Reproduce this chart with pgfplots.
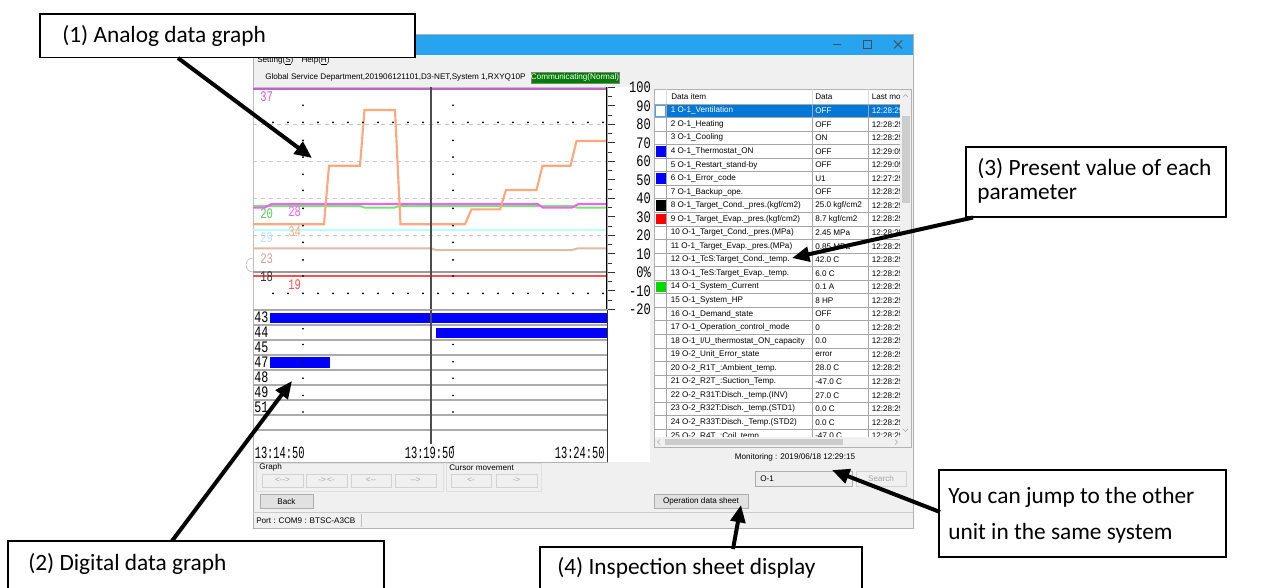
\documentclass[border=0pt]{standalone}
\usepackage{fontspec}
\setmainfont{Liberation Sans}
\newfontfamily\callfont{Carlito}
\newfontfamily\gothic{Liberation Mono}
\usepackage{graphicx}
\usepackage{pgfplots}
\pgfplotsset{compat=1.18}
\usetikzlibrary{arrows.meta}

\definecolor{titleblue}{RGB}{39,164,240}
\definecolor{winbg}{RGB}{240,240,240}
\definecolor{selblue}{RGB}{0,120,215}
\definecolor{corange}{RGB}{255,168,128}
\definecolor{cmagenta}{RGB}{255,90,255}
\definecolor{cgreen}{RGB}{110,235,110}
\definecolor{ccyan}{RGB}{185,255,255}
\definecolor{ctan}{RGB}{222,186,168}
\definecolor{cred}{RGB}{255,80,80}
\definecolor{cpurple}{RGB}{190,100,200}
\definecolor{commgreen}{RGB}{0,125,0}
\definecolor{btnbg}{RGB}{225,225,225}
\definecolor{btnborder}{RGB}{173,173,173}

\newcommand\sx[2][0.75]{\scalebox{#1}[1]{#2}}
\newcommand\uifont{\fontsize{6.1}{7}\selectfont}
\newcommand\gf[1]{\gothic\fontsize{#1}{#1}\selectfont}
\newcommand\cf{\callfont\fontsize{17.5}{21}\selectfont}

\newcommand\trow[4]{%
  \node[anchor=west,inner sep=0,font=\uifont] at (670.5,{110.7+(#1-1)*13.55}) {#1 #2};
  \node[anchor=west,inner sep=0,font=\uifont] at (815,{110.7+(#1-1)*13.55}) {#3};
  \node[anchor=west,inner sep=0,font=\uifont] at (871.5,{110.7+(#1-1)*13.55}) {#4};
}
\newcommand\swatch[2]{%
  \fill[#2] (655.5,{103.9+(#1-1)*13.55+1.5}) rectangle (665.5,{103.9+#1*13.55-1.5});
}

\begin{document}
\begin{tikzpicture}[x=0.75pt,y=-0.75pt]
\tikzset{callbox/.style={draw=black, line width=1.3pt, fill=white},
  callarrow/.style={line width=3pt, -{Triangle[length=13pt,width=11pt]}},
  btn/.style={draw=btnborder, fill=btnbg},
  gbtn/.style={draw=gray!35, fill=winbg}}
\path[use as bounding box] (0,0) rectangle (1281,587);
\fill[white] (0,0) rectangle (1281,587);
% window
\fill[winbg] (253,34) rectangle (913,528);
\fill[titleblue] (253,34) rectangle (913,55);
\draw[gray!60] (253,34) rectangle (913,528);
\draw[black!70, line width=0.7pt] (833,44.5) -- (841,44.5);
\draw[black!70, line width=0.7pt] (863,40.5) rectangle (871,48.5);
\draw[black!70, line width=0.7pt] (894,40.5) -- (902,48.5) (894,48.5) -- (902,40.5);
\node[anchor=west,inner sep=0,font=\uifont] at (257,60.5) {Setting(\underline{S})\quad Help(\underline{H})};
\node[anchor=west,inner sep=0,font=\uifont] at (265,77.5) {Global Service Department,201906121101,D3-NET,System 1,RXYQ10P};
\filldraw[fill=commgreen, draw=gray] (531,72) rectangle (619,83);
\node[inner sep=0,font=\uifont,text=white] at (575,77.5) {Communicating(Normal)};
\fill[white] (253,87) rectangle (650,462);
\draw[gray!60] (253,279) ++(0,-7) arc (90:270:7);

% ---------- analog graph ----------
\begin{scope}[x=1cm,y=1cm]
\begin{axis}[
  at={(189.75pt,-65.475pt)}, anchor=north west, scale only axis,
  width=265.5pt, height=166.5pt,
  xmin=-100, xmax=608, ymin=-20, ymax=100,
  axis line style={draw=gray!50},
  xtick=\empty,
  ytick={-20,-10,0,10,20,30,40,50,60,70,80,90,100},
  yticklabels={\sx{-20},\sx{-10},\sx{0\%},\sx{10},\sx{20},\sx{30},\sx{40},\sx{50},\sx{60},\sx{70},\sx{80},\sx{90},\sx{100}},
  ytick pos=right, yticklabel pos=right,
  minor ytick={-15,-5,5,15,25,35,45,55,65,75,85,95},
  tick align=outside,
  major tick length=6pt, minor tick length=4pt,
  every tick/.style={black!80, line width=0.5pt},
  yticklabel style={font={\gf{12}}, anchor=east, xshift=27pt, inner sep=0pt},
]
\draw[gray!45, dashed] (axis cs:-100,20) -- (axis cs:608,20);
\draw[gray!45, dashed] (axis cs:-100,40) -- (axis cs:608,40);
\draw[gray!45, dashed] (axis cs:-100,60) -- (axis cs:608,60);
\draw[gray!45, dashed] (axis cs:-100,80) -- (axis cs:608,80);
\addplot[only marks, mark=*, mark size=0.45pt, black] coordinates {
(-60,81)(-30,81)(0,81)(30,81)(60,81)(90,81)(120,81)(150,81)(180,81)(210,81)(240,81)(270,81)(300,81)(330,81)(360,81)(390,81)(420,81)(450,81)(480,81)(510,81)(540,81)(570,81)(600,81)
(-60,-11.4)(-30,-11.4)(0,-11.4)(30,-11.4)(60,-11.4)(90,-11.4)(120,-11.4)(150,-11.4)(180,-11.4)(210,-11.4)(240,-11.4)(270,-11.4)(300,-11.4)(330,-11.4)(360,-11.4)(390,-11.4)(420,-11.4)(450,-11.4)(480,-11.4)(510,-11.4)(540,-11.4)(570,-11.4)(600,-11.4)
(0,90.3)(0,71.3)(0,62.3)(0,53)(0,44.3)(0,34.6)(0,25.2)(0,16.2)(0,6.7)(0,-2)
(300,90.3)(300,71.3)(300,62.3)(300,53)(300,44.3)(300,34.6)(300,25.2)(300,16.2)(300,6.7)(300,-2)
};
\addplot[gray!80, line width=1.6pt] coordinates {(-100,0.4)(608,0.4)};
\addplot[cpurple, line width=1.4pt] coordinates {(-100,99)(608,99)};
\addplot[cred, line width=1.2pt] coordinates {(-100,-2)(608,-2)};
\addplot[ctan, line width=1.5pt] coordinates {(-100,13)(256,13)(266,12)(537,12)(550,13)(608,13)};
\addplot[ccyan, line width=1.5pt] coordinates {(-100,22.9)(608,22.9)};
\addplot[cgreen, line width=1.5pt] coordinates {(-100,35.8)(114,35.8)(124,34.9)(182,34.9)(192,35.8)(537,35.8)(550,34.9)(608,34.9)};
\addplot[cmagenta, line width=1.5pt] coordinates {(-100,35)(-76,35)(-64,36.8)(470,36.8)(480,34.9)(537,34.9)(550,36.8)(608,36.8)};
\addplot[corange, line width=1.6pt] coordinates {(-100,26)(42,26)(52,57.6)(114,57.6)(123,87.7)(184,87.7)(195,26)(324,26)(337,34)(394,34)(406,44.5)(467,44.5)(479,57.6)(535,57.6)(547,71)(608,71)};
\draw[black!70, line width=0.8pt] (axis cs:256,-20) -- (axis cs:256,100);
\draw[black, line width=0.8pt] (rel axis cs:1,0) -- (rel axis cs:1,1);
\draw[gray!70, line width=1.2pt] (rel axis cs:0,0) -- (rel axis cs:1,0);
\node[anchor=west,inner sep=0,text=cpurple] at (axis cs:-86,95) {\gf{11}\sx[0.72]{37}};
\node[anchor=west,inner sep=0,text=cgreen!85!black] at (axis cs:-86,31.8) {\gf{11}\sx[0.72]{20}};
\node[anchor=west,inner sep=0,text=cmagenta] at (axis cs:-30,32.9) {\gf{11}\sx[0.72]{28}};
\node[anchor=west,inner sep=0,text=ccyan!80!blue!60] at (axis cs:-86,18.8) {\gf{11}\sx[0.72]{29}};
\node[anchor=west,inner sep=0,text=corange] at (axis cs:-30,21.8) {\gf{11}\sx[0.72]{34}};
\node[anchor=west,inner sep=0,text=ctan!90!black] at (axis cs:-86,7.6) {\gf{11}\sx[0.72]{23}};
\node[anchor=west,inner sep=0,text=black!80] at (axis cs:-86,-2.6) {\gf{11}\sx[0.72]{18}};
\node[anchor=west,inner sep=0,text=cred] at (axis cs:-30,-6.7) {\gf{11}\sx[0.72]{19}};
\end{axis}

% ---------- digital graph ----------
\begin{axis}[
  at={(189.75pt,-232.5pt)}, anchor=north west, scale only axis,
  width=265.5pt, height=114pt,
  xmin=-100, xmax=608, ymin=0, ymax=10.133, y dir=reverse,
  axis line style={draw=gray!60},
  xtick=\empty, ytick=\empty, clip=false,
]
\draw[gray!65, line width=1pt] (axis cs:-100,1) -- (axis cs:608,1);
\draw[gray!65, line width=1pt] (axis cs:-100,2) -- (axis cs:608,2);
\draw[gray!65, line width=1pt] (axis cs:-100,3) -- (axis cs:608,3);
\draw[gray!65, line width=1pt] (axis cs:-100,4) -- (axis cs:608,4);
\draw[gray!65, line width=1pt] (axis cs:-100,5) -- (axis cs:608,5);
\draw[gray!65, line width=1pt] (axis cs:-100,6) -- (axis cs:608,6);
\draw[gray!65, line width=1pt] (axis cs:-100,7) -- (axis cs:608,7);
\draw[gray!65, line width=1pt] (axis cs:-100,8) -- (axis cs:608,8);
\addplot[fill=blue, draw=none] coordinates {(-66,0.18) (608,0.18) (608,0.85) (-66,0.85)} -- cycle;
\addplot[fill=blue, draw=none] coordinates {(266,1.18) (608,1.18) (608,1.85) (266,1.85)} -- cycle;
\addplot[fill=blue, draw=none] coordinates {(-66,3.15) (54,3.15) (54,3.89) (-66,3.89)} -- cycle;
\addplot[only marks, mark=*, mark size=0.45pt, black] coordinates {
(0,1.25)(0,2.3)(0,3.45)(0,4.55)(0,5.7)(0,6.8)
(300,2.3)(300,3.45)(300,4.55)(300,5.7)(300,6.8)(300,9.1)};
\draw[black!70, line width=0.8pt] (axis cs:256,0) -- (axis cs:256,8.9);
\draw[black!80, line width=0.6pt] (rel axis cs:1,0) -- (rel axis cs:1,1);
\node[anchor=west,inner sep=0] at (axis cs:-98,0.5) {\gf{12}\sx[0.73]{43}};
\node[anchor=west,inner sep=0] at (axis cs:-98,1.5) {\gf{12}\sx[0.73]{44}};
\node[anchor=west,inner sep=0] at (axis cs:-98,2.5) {\gf{12}\sx[0.73]{45}};
\node[anchor=west,inner sep=0] at (axis cs:-98,3.5) {\gf{12}\sx[0.73]{47}};
\node[anchor=west,inner sep=0] at (axis cs:-98,4.5) {\gf{12}\sx[0.73]{48}};
\node[anchor=west,inner sep=0] at (axis cs:-98,5.5) {\gf{12}\sx[0.73]{49}};
\node[anchor=west,inner sep=0] at (axis cs:-98,6.5) {\gf{12}\sx[0.73]{51}};
\node[anchor=south east,inner sep=0] at (axis cs:4,9.93) {\gf{12.8}\sx[0.61]{13:14:50}};
\node[anchor=south east,inner sep=0] at (axis cs:304,9.93) {\gf{12.8}\sx[0.61]{13:19:50}};
\node[anchor=south east,inner sep=0] at (axis cs:604,9.93) {\gf{12.8}\sx[0.61]{13:24:50}};
\end{axis}
\end{scope}

% ---------- table ----------
\fill[white] (654,89) rectangle (911,447);
\draw[gray!60] (654,89) rectangle (911,447);
\begin{scope}
\clip (654,89) rectangle (900,437);
\fill[selblue] (667,103.9) rectangle (900,117.45);
\foreach \k in {0,...,25} \draw[gray!70] (654,{103.9+\k*13.55}) -- (900,{103.9+\k*13.55});
\foreach \xx in {666.7,812.3,868.3} \draw[gray!70] (\xx,103.9) -- (\xx,437);
\foreach \xx in {666.7,812.3,868.3} \draw[gray!30] (\xx,89) -- (\xx,103.9);
\node[anchor=west,inner sep=0,font=\uifont] at (671,96.5) {Data item};
\node[anchor=west,inner sep=0,font=\uifont] at (815,96.5) {Data};
\node[anchor=west,inner sep=0,font=\uifont] at (871.5,96.5) {Last modified};
\draw[selblue!70] (655.5,105.4) rectangle (665.5,116);
\node[anchor=west,inner sep=0,font=\uifont,text=white] at (670.5,110.7) {1 O-1\_Ventilation};
\node[anchor=west,inner sep=0,font=\uifont,text=white] at (815,110.7) {OFF};
\node[anchor=west,inner sep=0,font=\uifont,text=white] at (871.5,110.7) {12:28:25};
\trow{2}{O-1\_Heating}{OFF}{12:28:25}
\trow{3}{O-1\_Cooling}{ON}{12:28:25}
\trow{4}{O-1\_Thermostat\_ON}{OFF}{12:29:05}
\trow{5}{O-1\_Restart\_stand-by}{OFF}{12:29:05}
\trow{6}{O-1\_Error\_code}{U1}{12:27:25}
\trow{7}{O-1\_Backup\_ope.}{OFF}{12:28:25}
\trow{8}{O-1\_Target\_Cond.\_pres.(kgf/cm2)}{25.0 kgf/cm2}{12:28:25}
\trow{9}{O-1\_Target\_Evap.\_pres.(kgf/cm2)}{8.7 kgf/cm2}{12:28:25}
\trow{10}{O-1\_Target\_Cond.\_pres.(MPa)}{2.45 MPa}{12:28:25}
\trow{11}{O-1\_Target\_Evap.\_pres.(MPa)}{0.85 MPa}{12:28:25}
\trow{12}{O-1\_TcS:Target\_Cond.\_temp.}{42.0 C}{12:28:25}
\trow{13}{O-1\_TeS:Target\_Evap.\_temp.}{6.0 C}{12:28:25}
\trow{14}{O-1\_System\_Current}{0.1 A}{12:28:25}
\trow{15}{O-1\_System\_HP}{8 HP}{12:28:25}
\trow{16}{O-1\_Demand\_state}{OFF}{12:28:25}
\trow{17}{O-1\_Operation\_control\_mode}{0}{12:28:25}
\trow{18}{O-1\_I/U\_thermostat\_ON\_capacity}{0.0}{12:28:25}
\trow{19}{O-2\_Unit\_Error\_state}{error}{12:28:25}
\trow{20}{O-2\_R1T\_:Ambient\_temp.}{28.0 C}{12:28:25}
\trow{21}{O-2\_R2T\_:Suction\_Temp.}{-47.0 C}{12:28:25}
\trow{22}{O-2\_R31T:Disch.\_temp.(INV)}{27.0 C}{12:28:25}
\trow{23}{O-2\_R32T:Disch.\_temp.(STD1)}{0.0 C}{12:28:25}
\trow{24}{O-2\_R33T:Disch.\_Temp.(STD2)}{0.0 C}{12:28:25}
\trow{25}{O-2\_R4T\_:Coil\_temp.}{-47.0 C}{12:28:25}
\swatch{4}{blue}
\swatch{6}{blue}
\swatch{8}{black}
\swatch{9}{red}
\swatch{14}{green!85!black}
\end{scope}
\fill[winbg] (900,89.5) rectangle (910.5,437);
\fill[gray!40] (901.5,116) rectangle (909.5,203);
\draw[gray!70] (903,97) -- (905.5,94.5) -- (908,97);
\draw[gray!70] (903,429) -- (905.5,431.5) -- (908,429);
\fill[winbg] (654.5,437) rectangle (910.5,446.5);
\fill[gray!40] (665,439) rectangle (843,445);
\draw[gray!70] (660,439.5) -- (657.5,442) -- (660,444.5);
\draw[gray!70] (895,439.5) -- (897.5,442) -- (895,444.5);

% ---------- lower controls ----------
\node[inner sep=0,font=\uifont] at (795,457.5) {Monitoring : 2019/06/18 12:29:15};
\filldraw[fill=btnbg!60, draw=btnborder] (755,471) rectangle (852,486);
\node[anchor=west,inner sep=0,font=\uifont] at (760,478.5) {O-1};
\filldraw[gbtn] (856,471) rectangle (906,486);
\node[inner sep=0,font=\uifont,text=gray!70] at (881,478.5) {Search};
\filldraw[btn] (654,494.5) rectangle (748,508);
\node[inner sep=0,font=\uifont] at (701,501.3) {Operation data sheet};
\filldraw[btn] (260,494.5) rectangle (313,508);
\node[inner sep=0,font=\uifont] at (286.5,501.3) {Back};
\draw[gray!25] (256,463) rectangle (443,491);
\node[anchor=west,inner sep=0,font=\uifont] at (259,467.5) {Graph};
\filldraw[gbtn] (262,474) rectangle (303,487);
\node[inner sep=0,font=\uifont,text=gray!70] at (282.5,480.5) {<-{}->};
\filldraw[gbtn] (306,474) rectangle (347,487);
\node[inner sep=0,font=\uifont,text=gray!70] at (326.5,480.5) {->\,<-};
\filldraw[gbtn] (351,474) rectangle (391,487);
\node[inner sep=0,font=\uifont,text=gray!70] at (371,480.5) {<-{}-};
\filldraw[gbtn] (395,474) rectangle (436,487);
\node[inner sep=0,font=\uifont,text=gray!70] at (415.5,480.5) {-{}->};
\draw[gray!25] (446,463) rectangle (541,491);
\node[anchor=west,inner sep=0,font=\uifont] at (449,467.5) {Cursor movement};
\filldraw[gbtn] (451,474) rectangle (491,487);
\node[inner sep=0,font=\uifont,text=gray!70] at (471,480.5) {<-};
\filldraw[gbtn] (496,474) rectangle (537,487);
\node[inner sep=0,font=\uifont,text=gray!70] at (516.5,480.5) {->};
\draw[gray!40] (253,512.5) -- (913,512.5);
\node[anchor=west,inner sep=0,font=\uifont] at (256,520.5) {Port : COM9 : BTSC-A3CB};
\draw[gray!50] (361,514) -- (361,527);

% ---------- callouts ----------
\draw[callbox] (40,14) rectangle (415,57.5);
\node[anchor=west,inner sep=0,font=\cf] at (62,36) {(1) Analog data graph};
\draw[callarrow] (178,58) -- (312,158);
\draw[callbox] (8,541) rectangle (384,595);
\node[anchor=west,inner sep=0,font=\cf] at (28,564) {(2) Digital data graph};
\draw[callarrow] (172,541) -- (292,381);
\draw[callbox] (966,147) rectangle (1226,217);
\node[anchor=west,inner sep=0,font=\cf] at (977,169) {(3) Present value of each};
\node[anchor=west,inner sep=0,font=\cf] at (977,194) {parameter};
\draw[callarrow] (973,217.5) -- (792,258);
\draw[callbox] (540,547) rectangle (862,595);
\node[anchor=west,inner sep=0,font=\cf] at (557,568) {(4) Inspection sheet display};
\draw[callarrow] (733,549) -- (741,505);
\draw[callbox] (939,470) rectangle (1226,557);
\node[anchor=west,inner sep=0,font=\cf] at (948,497) {You can jump to the other};
\node[anchor=west,inner sep=0,font=\cf] at (948,533) {unit in the same system};
\draw[callarrow] (940,512) -- (832,470);
\end{tikzpicture}
\end{document}
